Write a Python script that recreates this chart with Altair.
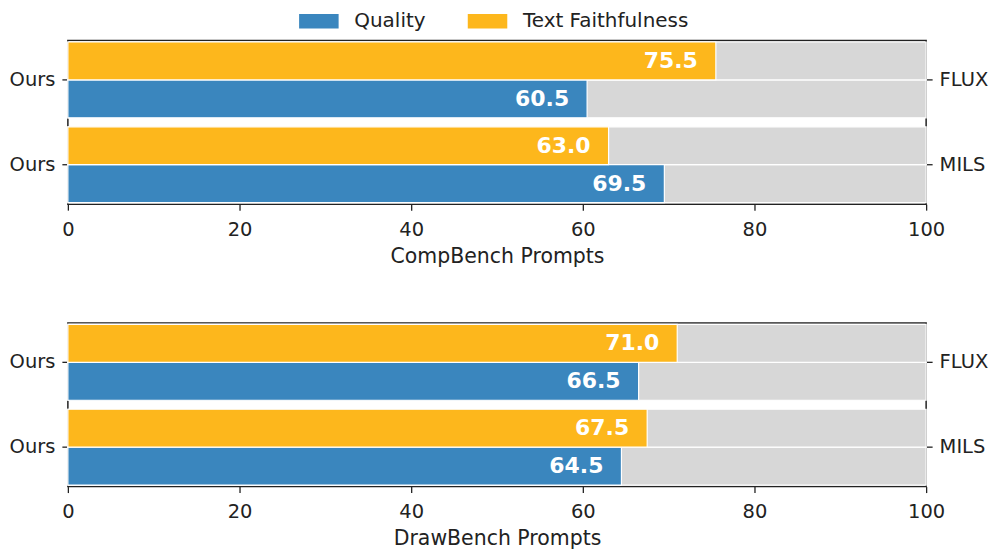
import altair as alt
import pandas as pd

groups = ["FLUX", "MILS"]
metrics = ["Quality", "Text Faithfulness"]
comp_quality = [60.5, 69.5]
comp_text = [75.5, 63.0]
draw_quality = [66.5, 64.5]
draw_text = [71.0, 67.5]
x_ticks = [0, 20, 40, 60, 80, 100]
full_scale = 100
panel_titles = ["CompBench Prompts", "DrawBench Prompts"]

COLORS = ["#3A86BE", "#FDB71C"]
GRAY = "#D7D7D7"
FONT = "DejaVu Sans"
INK = "#222222"


def make_df(q, t):
    rows = []
    for g, qv, tv in zip(groups, q, t):
        rows.append({"group": g, "metric": metrics[0], "value": qv, "full": full_scale, "label": f"{qv:.1f}"})
        rows.append({"group": g, "metric": metrics[1], "value": tv, "full": full_scale, "label": f"{tv:.1f}"})
    return pd.DataFrame(rows)


def panel(df, title):
    yscale = alt.Scale(paddingInner=0.106, paddingOuter=0.018)
    yoff = alt.YOffset("metric:N", sort=[metrics[1], metrics[0]],
                       scale=alt.Scale(paddingInner=0.0, paddingOuter=0))
    xscale = alt.Scale(domain=[0, full_scale], nice=False, zero=True)
    xaxis = alt.Axis(values=x_ticks, title=title, grid=False, domain=False,
                     labelFlush=False, format="d", labelPadding=10, titlePadding=8,
                     labelFontSize=19.5, titleFontSize=20.5)

    bg = alt.Chart(df).mark_bar(color=GRAY, stroke="white", strokeWidth=1.2).encode(
        x=alt.X("full:Q", scale=xscale, axis=xaxis, title=title),
        y=alt.Y("group:N", sort=groups, scale=yscale,
                axis=alt.Axis(title=None, orient="left", labelExpr="'Ours'", domain=False,
                              labelPadding=7, labelFontSize=19.5)),
        yOffset=yoff,
    )
    bars = alt.Chart(df).mark_bar(stroke="white", strokeWidth=1.2).encode(
        x=alt.X("value:Q", scale=xscale, axis=xaxis, title=title),
        y=alt.Y("group:N", sort=groups, scale=yscale, axis=None),
        yOffset=yoff,
        color=alt.Color("metric:N", scale=alt.Scale(domain=metrics, range=COLORS),
                        legend=alt.Legend(title=None, orient="none", direction="horizontal",
                                          legendX=237, legendY=-34, padding=0,
                                          symbolType="M-1.4,-0.52L1.4,-0.52L1.4,0.52L-1.4,0.52Z",
                                          symbolSize=800, symbolStrokeWidth=0,
                                          labelFontSize=20, labelFont=FONT, labelColor=INK,
                                          labelLimit=400,
                                          labelOffset=21, columnPadding=41)),
    )
    text = alt.Chart(df).mark_text(align="right", baseline="middle", dx=-18, color="white",
                                   fontWeight="bold", fontSize=22, font=FONT).encode(
        x=alt.X("value:Q", scale=xscale, axis=xaxis, title=title),
        y=alt.Y("group:N", sort=groups, scale=yscale, axis=None),
        yOffset=yoff,
        text="label:N",
    )
    right = alt.Chart(df).mark_point(opacity=0).encode(
        x=alt.X("value:Q", scale=xscale, axis=xaxis, title=title),
        y=alt.Y("group:N", sort=groups, scale=yscale,
                axis=alt.Axis(title=None, orient="right", domain=False, labelPadding=7,
                              labelFontSize=19.5)),
    )
    return alt.layer(bg, bars, text, right).resolve_axis(y="independent").properties(
        width=860, height=164)


top = panel(make_df(comp_quality, comp_text), panel_titles[0])
bottom = panel(make_df(draw_quality, draw_text), panel_titles[1])

chart = alt.vconcat(top, bottom, spacing=54).properties(
    padding={"left": 0, "right": 0, "top": -2, "bottom": 0},
    background="white",
).configure_view(stroke=INK, strokeWidth=1.5).configure_axis(
    labelFont=FONT, titleFont=FONT, labelFontSize=19.5, titleFontSize=20.5,
    labelColor=INK, titleColor=INK, titleFontWeight="normal",
    tickColor=INK, tickSize=6, tickWidth=1.3,
)

chart.save("out.html", embed_options={"renderer": "svg", "actions": False})
